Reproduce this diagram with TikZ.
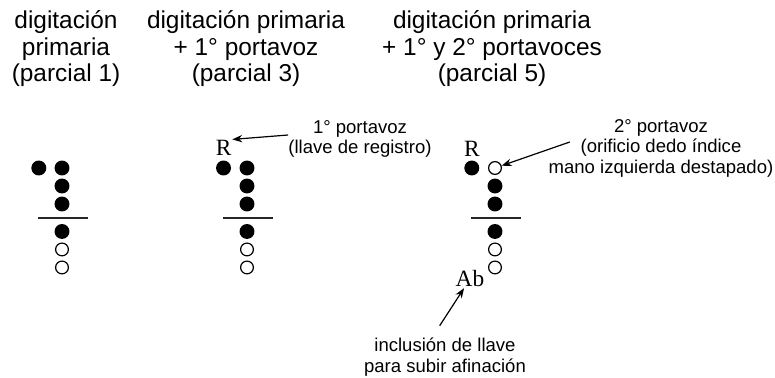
\documentclass[tikz,border=0pt]{standalone}
\usepackage{fontspec}
\setmainfont{Liberation Sans}
\newfontfamily\letterfont{Liberation Serif}
\usetikzlibrary{arrows.meta}
\tikzset{
	hole/.style = {circle, inner sep=0pt, minimum size=11.2pt},
	closed/.style = {hole, fill=black},
	open/.style = {hole, draw=black, line width=0.9pt, minimum size=9.6pt},
	title/.style = {align=center, inner sep=0pt, font=\fontsize{18.3}{19.9}\selectfont},
	note/.style = {align=center, inner sep=0pt, font=\fontsize{13.9}{15.4}\selectfont},
	letter/.style = {inner sep=0.5pt, font=\letterfont\fontsize{17.5}{17.5}\selectfont},
	line/.style = {draw, line width=0.9pt, -{Stealth[length=7.5pt, width=5.5pt]}},
	rule/.style = {draw, line width=1pt, black!85}
}

\begin{document}
\begin{tikzpicture}[x=0.75pt, y=0.75pt, node distance=13.5pt]
	\useasboundingbox (0,0) rectangle (775,-378);

	% titulos
	\node (title1) [title] at (66,-49) {digitación\\primaria\\(parcial 1)};
	\node (title3) [title] at (246,-49) {digitación primaria\\+ 1° portavoz\\(parcial 3)};
	\node (title5) [title] at (492,-49) {digitación primaria\\+ 1° y 2° portavoces\\(parcial 5)};

	% parcial 1
	\node (p1a) [closed] at (62,-168) {};
	\node (p1l) [closed, left of=p1a, node distance=17.4pt] {};
	\node (p1b) [closed, below of=p1a] {};
	\node (p1c) [closed, below of=p1b] {};
	\node (p1d) [closed, below of=p1c, node distance=20.6pt] {};
	\node (p1e) [open, below of=p1d] {};
	\node (p1f) [open, below of=p1e] {};
	\draw [rule] ([shift={(-18pt,-10.5pt)}]p1c.center) -- ++(37.5pt,0);

	% parcial 3
	\node (p3a) [closed] at (247,-168) {};
	\node (p3l) [closed, left of=p3a, node distance=17.6pt] {};
	\node (p3b) [closed, below of=p3a] {};
	\node (p3c) [closed, below of=p3b] {};
	\node (p3d) [closed, below of=p3c, node distance=20.6pt] {};
	\node (p3e) [open, below of=p3d] {};
	\node (p3f) [open, below of=p3e] {};
	\draw [rule] ([shift={(-18pt,-10.5pt)}]p3c.center) -- ++(37.5pt,0);
	\node (reg3) [letter, above of=p3l, node distance=15pt] {R};

	% parcial 5
	\node (p5a) [open] at (495,-168) {};
	\node (p5l) [closed, left of=p5a, node distance=17.4pt] {};
	\node (p5b) [closed, below of=p5a] {};
	\node (p5c) [closed, below of=p5b] {};
	\node (p5d) [closed, below of=p5c, node distance=20.6pt] {};
	\node (p5e) [open, below of=p5d] {};
	\node (p5f) [open, below of=p5e] {};
	\draw [rule] ([shift={(-18pt,-10.5pt)}]p5c.center) -- ++(37.5pt,0);
	\node (reg5) [letter, above of=p5l, node distance=14pt] {R};
	\node (ab5) [letter] at (470,-279) {Ab};

	% notas
	\node (port1) [note] at (360,-139) {1° portavoz\\(llave de registro)};
	\node (port2) [note] at (661,-148) {2° portavoz\\(orificio dedo índice\\mano izquierda destapado)};
	\node (llave) [note] at (445,-357) {inclusión de llave\\para subir afinación};

	% flechas
	\path [line] ([yshift=3pt]port1.west) -- (reg3.north east);
	\path [line] ([shift={(16pt,4.5pt)}]port2.west) -- (p5a);
	\path [line] ([shift={(-4pt,9pt)}]llave.north) -- (ab5);
\end{tikzpicture}
\end{document}
